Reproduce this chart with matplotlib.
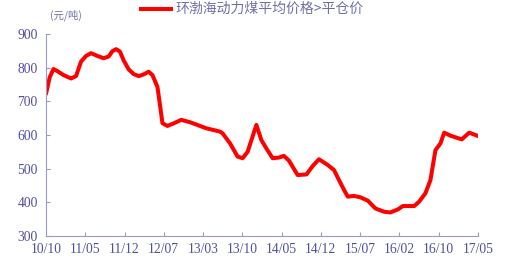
import numpy as np
import matplotlib
matplotlib.use("Agg")
from matplotlib import pyplot as plt

# ==========================
# Data (weekly index)
# ==========================
weeks = [0, 3, 6, 9, 14, 20, 24, 28, 32, 36, 41, 46, 50, 53, 56, 59, 62, 66,
         70, 74, 78, 82, 85, 89, 91, 93, 97, 101, 108, 113, 115, 128, 139,
         141, 147, 153, 157, 161, 168, 172, 176, 181, 186, 190, 194, 201, 208,
         213, 218, 225, 230, 234, 238, 241, 246, 251, 257, 263, 270, 275, 281,
         285, 294, 298, 303, 307, 311, 315, 318, 323, 332, 335, 338, 345]
price = [722, 772, 796, 790, 778, 768, 775, 818, 835, 843, 835, 828, 833, 849,
         855, 848, 822, 795, 781, 775, 780, 788, 778, 743, 690, 635, 627, 633,
         645, 640, 638, 620, 610, 605, 575, 536, 531, 550, 630, 585, 560, 531,
         533, 538, 524, 481, 483, 508, 528, 511, 496, 466, 437, 417, 419, 415,
         405, 382, 372, 370, 379, 389, 389, 402, 427, 466, 555, 575, 607, 598,
         587, 597, 607, 597]

tick_labels = ["10/10", "11/05", "11/12", "12/07", "13/03", "13/10", "14/05",
               "14/12", "15/07", "16/02", "16/10", "17/05"]
y_ticks = [300, 400, 500, 600, 700, 800, 900]

series_name = "环渤海动力煤平均价格>平仓价"
unit_label = "(元/吨)"

# ==========================
# Style
# ==========================
axis_color = "#9a9ad0"
text_color = "#5050a0"
legend_text_color = "#7070a8"
serif = ["Liberation Serif", "DejaVu Serif"]
cjk = ["Noto Sans CJK SC", "DejaVu Sans"]

fig = plt.figure(figsize=(5.06, 2.62), dpi=100)
ax = fig.add_axes([0.0909, 0.0992, 0.8538, 0.7710])

ax.plot(weeks, price, color="#ff0000", linewidth=2.9, solid_joinstyle="round",
        solid_capstyle="round")

ax.set_xlim(0, 345)
ax.set_ylim(300, 900)
ax.set_xticks(np.linspace(0, 345, len(tick_labels)))
ax.set_xticklabels(tick_labels)
ax.set_yticks(y_ticks)

for side in ["top", "right"]:
    ax.spines[side].set_visible(False)
for side in ["left", "bottom"]:
    ax.spines[side].set_color(axis_color)
    ax.spines[side].set_linewidth(0.8)

ax.tick_params(direction="in", length=3, width=0.8, color=axis_color,
               labelcolor=text_color, labelsize=9.8)
ax.tick_params(axis="x", pad=5)
ax.tick_params(axis="y", pad=6)
for lbl in ax.get_xticklabels() + ax.get_yticklabels():
    lbl.set_family(serif)

# legend drawn as a line + text above the plot
fig.add_artist(plt.Line2D([141 / 506, 171 / 506], [1 - 9 / 262, 1 - 9 / 262],
                          color="#ff0000", linewidth=2.9))
fig.text(175 / 506, 1 - 9 / 262, series_name, color=legend_text_color,
         fontsize=10, family=cjk, va="center", ha="left")
fig.text(50 / 506, 1 - 15 / 262, unit_label, color=legend_text_color,
         fontsize=7.5, family=cjk, va="center", ha="left")

fig.savefig("out.png", dpi=100)
